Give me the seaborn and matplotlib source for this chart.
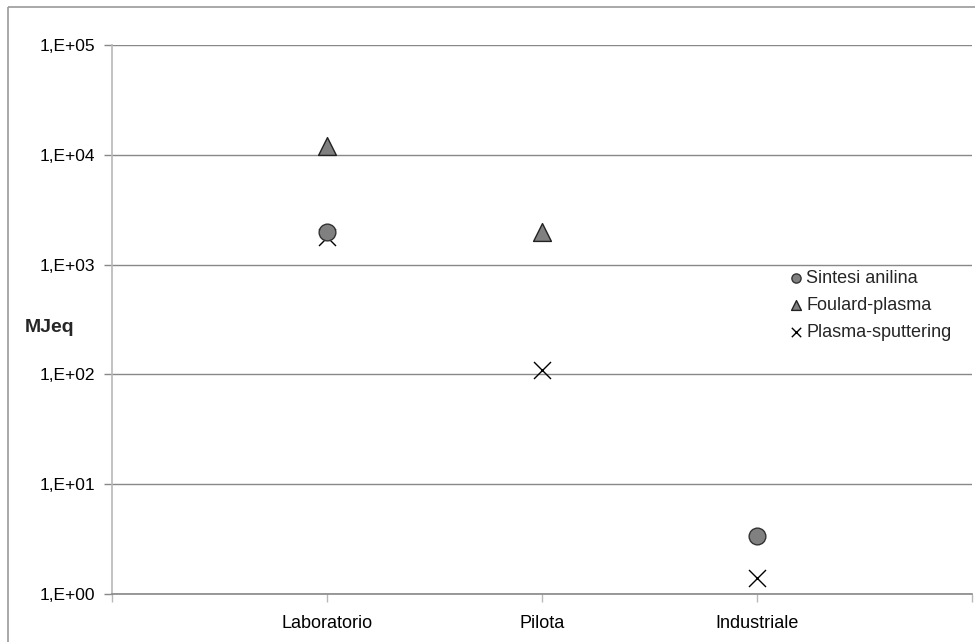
import matplotlib
matplotlib.use("Agg")
import matplotlib.pyplot as plt
import matplotlib.ticker as mticker
from matplotlib.lines import Line2D
import seaborn as sns
import pandas as pd
import numpy as np

categories = ["Laboratorio", "Pilota", "Industriale"]
sintesi_anilina = [2000, np.nan, 3.4]
foulard_plasma = [12000, 2000, np.nan]
plasma_sputtering = [1800, 110, 1.4]
y_ticks = [1, 10, 100, 1000, 10000, 100000]
y_tick_labels = ["1,E+00", "1,E+01", "1,E+02", "1,E+03", "1,E+04", "1,E+05"]

sns.set_theme(style="white")
plt.rcParams["font.family"] = ["Liberation Sans", "DejaVu Sans"]

fig = plt.figure(figsize=(9.75, 6.42), dpi=100, facecolor="white")
ax = fig.add_axes([112 / 975, 48 / 642, 860 / 975, 549 / 642])

df_x = pd.DataFrame({"cat": categories, "val": plasma_sputtering})
df_o = pd.DataFrame({"cat": categories, "val": sintesi_anilina}).dropna()
df_t = pd.DataFrame({"cat": categories, "val": foulard_plasma}).dropna()

sns.scatterplot(data=df_x, x="cat", y="val", marker="x", s=150, color="black",
                linewidth=1.0, ax=ax, zorder=3, label="Plasma-sputtering")
sns.scatterplot(data=df_o, x="cat", y="val", marker="o", s=145, color="#808080",
                edgecolor="#333333", linewidth=1.0, ax=ax, zorder=4, label="Sintesi anilina")
sns.scatterplot(data=df_t, x="cat", y="val", marker="^", s=165, color="#808080",
                edgecolor="#222222", linewidth=1.0, ax=ax, zorder=5, label="Foulard-plasma")

ax.set_yscale("log")
ax.set_ylim(1, 100000)
ax.set_xlim(-1, 3)
ax.yaxis.set_major_locator(mticker.FixedLocator(y_ticks))
ax.yaxis.set_minor_locator(mticker.NullLocator())
ax.set_yticklabels(y_tick_labels)
ax.set_xticks([-1, 0, 1, 2, 3])
ax.set_xticklabels([""] + categories + [""])
ax.set_xlabel("")
ax.set_ylabel("")

ax.grid(axis="y", color="#888888", linewidth=1.0)
ax.set_axisbelow(True)
for side in ["top", "right"]:
    ax.spines[side].set_visible(False)
ax.spines["left"].set_color("#b8b8b8")
ax.spines["left"].set_linewidth(1.2)
ax.spines["bottom"].set_color("#888888")
ax.spines["bottom"].set_linewidth(1.2)
ax.tick_params(axis="y", which="major", length=6, width=1, color="#888888",
               direction="out", left=True, right=False, labelsize=12.5, pad=6,
               labelcolor="black")
ax.tick_params(axis="x", which="major", length=6, width=1, color="#b8b8b8",
               direction="out", bottom=True, top=False, labelsize=13, pad=9,
               labelcolor="black")

handles, labels = ax.get_legend_handles_labels()
order = [labels.index(l) for l in ["Sintesi anilina", "Foulard-plasma", "Plasma-sputtering"]]
leg = ax.legend([handles[i] for i in order], [labels[i] for i in order],
                loc="upper left", bbox_to_anchor=(782 / 975, 1 - 261 / 642),
                bbox_transform=fig.transFigure, frameon=False, fontsize=13,
                markerscale=0.55, handlelength=0.6, handletextpad=0.25,
                labelspacing=0.55, borderpad=0)

fig.text(25 / 975, 1 - 327 / 642, "MJeq", fontsize=14, fontweight="bold",
         ha="left", va="center")

top_y = 1 - 7 / 642
left_x = 8 / 975
fig.add_artist(Line2D([left_x, 1.02], [top_y, top_y], transform=fig.transFigure,
                      color="#999999", linewidth=1.2, solid_capstyle="butt"))
fig.add_artist(Line2D([left_x, left_x], [-0.02, top_y], transform=fig.transFigure,
                      color="#999999", linewidth=1.2, solid_capstyle="butt"))

fig.savefig("out.png", dpi=100, facecolor="white")
